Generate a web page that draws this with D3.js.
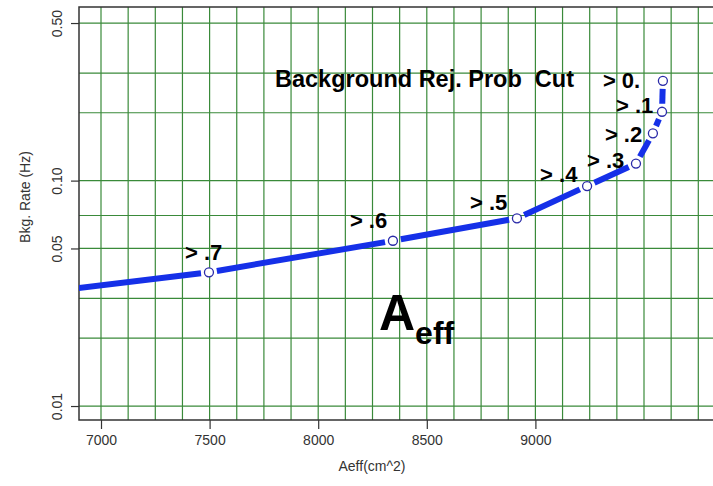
<!DOCTYPE html>
<html>
<head>
<meta charset="utf-8">
<script src="https://cdn.jsdelivr.net/npm/d3@7/dist/d3.min.js"></script>
<style>
  html, body { margin: 0; padding: 0; background: #ffffff; }
  svg { display: block; }
</style>
</head>
<body>
<script>
// ---- data ----
const cutLabels = ["", "> .7", "> .6", "> .5", "> .4", "> .3", "> .2", "> .1", "> 0."];
const aeffValues = [6890, 7497, 8344, 8915, 9238, 9463, 9541, 9583, 9587];
const rateValues = [0.0333, 0.0392, 0.0541, 0.0680, 0.0946, 0.119, 0.162, 0.202, 0.277];
const xTicks = [7000, 7500, 8000, 8500, 9000];
const yTicks = [0.01, 0.05, 0.10, 0.50];
const yTickLabels = ["0.01", "0.05", "0.10", "0.50"];
const xGrid = d3.range(7000, 9800, 125);
const yGrid = [0.01, 0.02, 0.03, 0.05, 0.07, 0.1, 0.2, 0.3, 0.5];
// label offsets (px) relative to each marked point
const labelDx = [0, -24, -43, -47, -47, -49, -48, -46, -60];
const labelDy = [0, -12, -13, -8, -4, 4, 9, 1, 7];

(function () {
const W = 713, H = 486;
const pLeft = 79, pTop = 7, pBottom = 420, pRight = 718;
const font = "Liberation Sans, Arial, sans-serif";

const svg = d3.select("body").append("svg").attr("width", W).attr("height", H);

const x = d3.scaleLinear().domain([6898.7, 9840.7]).range([pLeft, pRight]);
const y = d3.scaleLog().domain([0.00867, 0.589]).range([pBottom, pTop]);

svg.append("defs").append("clipPath").attr("id", "clip")
  .append("rect").attr("x", pLeft).attr("y", pTop).attr("width", pRight - pLeft).attr("height", pBottom - pTop);

const gridColor = "#3a8a3a";
const grid = svg.append("g").attr("clip-path", "url(#clip)");
grid.selectAll(".vg").data(xGrid).join("line")
  .attr("x1", d => x(d)).attr("x2", d => x(d)).attr("y1", pTop).attr("y2", pBottom)
  .attr("stroke", gridColor).attr("stroke-width", 1.2);
grid.selectAll(".hg").data(yGrid).join("line")
  .attr("x1", pLeft).attr("x2", pRight).attr("y1", d => y(d)).attr("y2", d => y(d))
  .attr("stroke", gridColor).attr("stroke-width", 1.2);

// axes
const xAxis = d3.axisBottom(x).tickValues(xTicks).tickSize(9).tickPadding(6).tickFormat(d3.format("d"));
const gx = svg.append("g").attr("transform", `translate(0,${pBottom})`).call(xAxis);
gx.select(".domain").remove();
gx.selectAll("line").attr("stroke", "#333").attr("stroke-width", 1.2);
gx.selectAll("text").attr("font-family", font).attr("font-size", 14).attr("fill", "#333");

const yAxis = d3.axisLeft(y).tickValues(yTicks).tickSize(8).tickFormat((d, i) => yTickLabels[i]);
const gy = svg.append("g").attr("transform", `translate(${pLeft},0)`).call(yAxis);
gy.select(".domain").remove();
gy.selectAll("line").attr("stroke", "#333").attr("stroke-width", 1.2);
gy.selectAll("text")
  .attr("font-family", font).attr("font-size", 14).attr("fill", "#333")
  .attr("x", null).attr("dy", null)
  .attr("text-anchor", "middle")
  .attr("transform", "translate(-17,0) rotate(-90)")
  .attr("y", 0);

// plot border (left, top, bottom)
svg.append("path")
  .attr("d", `M${pRight},${pTop}H${pLeft}V${pBottom}H${pRight}`)
  .attr("fill", "none").attr("stroke", "#333").attr("stroke-width", 1.5);

// axis titles
svg.append("text").attr("x", 372).attr("y", 471).attr("text-anchor", "middle")
  .attr("font-family", font).attr("font-size", 14).attr("fill", "#333")
  .text("Aeff(cm^2)");
svg.append("text").attr("transform", "translate(30,197) rotate(-90)").attr("text-anchor", "middle")
  .attr("font-family", font).attr("font-size", 14).attr("fill", "#333")
  .text("Bkg. Rate (Hz)");

// line with gaps around markers (type "b")
const pts = aeffValues.map((a, i) => ({ px: x(a), py: y(rateValues[i]), marked: cutLabels[i] !== "", i }));
const gap = 8;
const segs = [];
for (let i = 0; i < pts.length - 1; i++) {
  const p = pts[i], q = pts[i + 1];
  const dx = q.px - p.px, dy = q.py - p.py, len = Math.hypot(dx, dy);
  const g0 = p.marked ? gap : 0, g1 = q.marked ? gap : 0;
  if (len > g0 + g1) {
    segs.push({
      x1: p.px + dx * g0 / len, y1: p.py + dy * g0 / len,
      x2: q.px - dx * g1 / len, y2: q.py - dy * g1 / len
    });
  }
}
const plot = svg.append("g").attr("clip-path", "url(#clip)");
plot.selectAll(".seg").data(segs).join("line")
  .attr("x1", d => d.x1).attr("y1", d => d.y1).attr("x2", d => d.x2).attr("y2", d => d.y2)
  .attr("stroke", "#1530e8").attr("stroke-width", 6).attr("stroke-linecap", "butt");

plot.selectAll(".pt").data(pts.filter(p => p.marked)).join("circle")
  .attr("cx", d => d.px).attr("cy", d => d.py).attr("r", 4.5)
  .attr("fill", "#ffffff").attr("stroke", "#2a2aa8").attr("stroke-width", 1.3);

// cut labels
svg.selectAll(".cut").data(pts.filter(p => p.marked)).join("text")
  .attr("x", d => d.px + labelDx[d.i]).attr("y", d => d.py + labelDy[d.i])
  .attr("font-family", font).attr("font-weight", "bold")
  .attr("font-size", 22).attr("fill", "#000")
  .style("white-space", "pre")
  .text(d => cutLabels[d.i]);

// annotation
svg.append("text").attr("x", 275).attr("y", 87)
  .attr("font-family", font).attr("font-weight", "bold")
  .attr("font-size", 23.5).attr("fill", "#000")
  .style("white-space", "pre")
  .text("Background Rej. Prob  Cut");

// A_eff
const aeff = svg.append("text").attr("x", 379).attr("y", 330)
  .attr("font-family", font).attr("font-weight", "bold").attr("fill", "#000");
aeff.append("tspan").attr("font-size", 50).text("A");
aeff.append("tspan").attr("font-size", 32).attr("dy", 14).text("eff");
})();
</script>
</body>
</html>
